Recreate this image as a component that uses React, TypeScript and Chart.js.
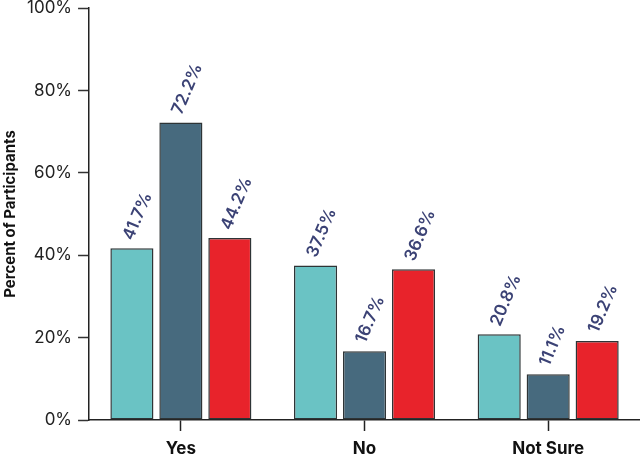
import React, { useEffect, useRef } from "react";
import { Chart, registerables } from "chart.js";

Chart.register(...registerables);

const categories = ["Yes", "No", "Not Sure"];
const seriesA = [41.7, 37.5, 20.8];
const seriesB = [72.2, 16.7, 11.1];
const seriesC = [44.2, 36.6, 19.2];
const yTicks = [0, 20, 40, 60, 80, 100];

const FONT = "Inter, 'Noto Sans', sans-serif";

const labelPlugin = {
  id: "barLabels",
  afterDatasetsDraw(chart: any) {
    const ctx = chart.ctx;
    ctx.save();
    ctx.font = `600 17px ${FONT}`;
    ctx.fillStyle = "#3b4275";
    ctx.textAlign = "left";
    ctx.textBaseline = "middle";
    chart.data.datasets.forEach((ds: any, i: number) => {
      const meta = chart.getDatasetMeta(i);
      meta.data.forEach((bar: any, j: number) => {
        const v = ds.data[j];
        ctx.save();
        ctx.translate(bar.x - 4, bar.y - 9);
        ctx.rotate((-67 * Math.PI) / 180);
        ctx.fillText(v.toFixed(1) + "%", 0, 0);
        ctx.restore();
      });
    });
    ctx.restore();
  },
};

export default function App() {
  const ref = useRef<HTMLCanvasElement>(null);
  useEffect(() => {
    document.body.style.margin = "0";
    const common = { borderColor: "#2e3436", borderWidth: 1.5, borderSkipped: false, barPercentage: 0.88, categoryPercentage: 0.8 };
    const chart = new Chart(ref.current!, {
      type: "bar",
      data: {
        labels: categories,
        datasets: [
          { label: "A", data: seriesA, backgroundColor: "#6ac3c4", ...common },
          { label: "B", data: seriesB, backgroundColor: "#476a7e", ...common },
          { label: "C", data: seriesC, backgroundColor: "#e8232b", ...common },
        ],
      },
      options: {
        animation: false,
        responsive: false,
        layout: { padding: { top: 8, right: 0, left: 1, bottom: 0 } },
        plugins: { legend: { display: false }, tooltip: { enabled: false } },
        scales: {
          x: {
            afterFit: (scale: any) => {
              scale.height = 36;
              scale.paddingLeft = 0;
              scale.paddingRight = 0;
            },
            grid: { display: true, drawOnChartArea: false, drawTicks: true, tickLength: 11, tickColor: "#222", tickWidth: 1.5, offset: false },
            border: { color: "#222", width: 1.5 },
            ticks: { color: "#111", font: { family: FONT, size: 17, weight: "bold" }, padding: 8 },
          },
          y: {
            min: 0,
            max: 100,
            afterFit: (scale: any) => {
              scale.paddingTop = 0;
              scale.paddingBottom = 0;
            },
            afterBuildTicks: (axis: any) => {
              axis.ticks = yTicks.map((v) => ({ value: v }));
            },
            grid: { drawOnChartArea: false, drawTicks: true, tickLength: 11, tickColor: "#333", tickWidth: 1.5 },
            border: { color: "#222", width: 1.5 },
            ticks: {
              color: "#222",
              font: { family: FONT, size: 17 },
              padding: 6,
              callback: (v: any) => v + "%",
            },
            title: {
              display: true,
              text: "Percent of Participants",
              color: "#111",
              font: { family: FONT, size: 15, weight: "bold" },
              padding: { top: 0, bottom: 2 },
            },
          },
        },
      },
      plugins: [labelPlugin],
    });
    return () => chart.destroy();
  }, []);
  return (
    <div style={{ width: 640, height: 456 }}>
      <canvas ref={ref} width={640} height={456} />
    </div>
  );
}
